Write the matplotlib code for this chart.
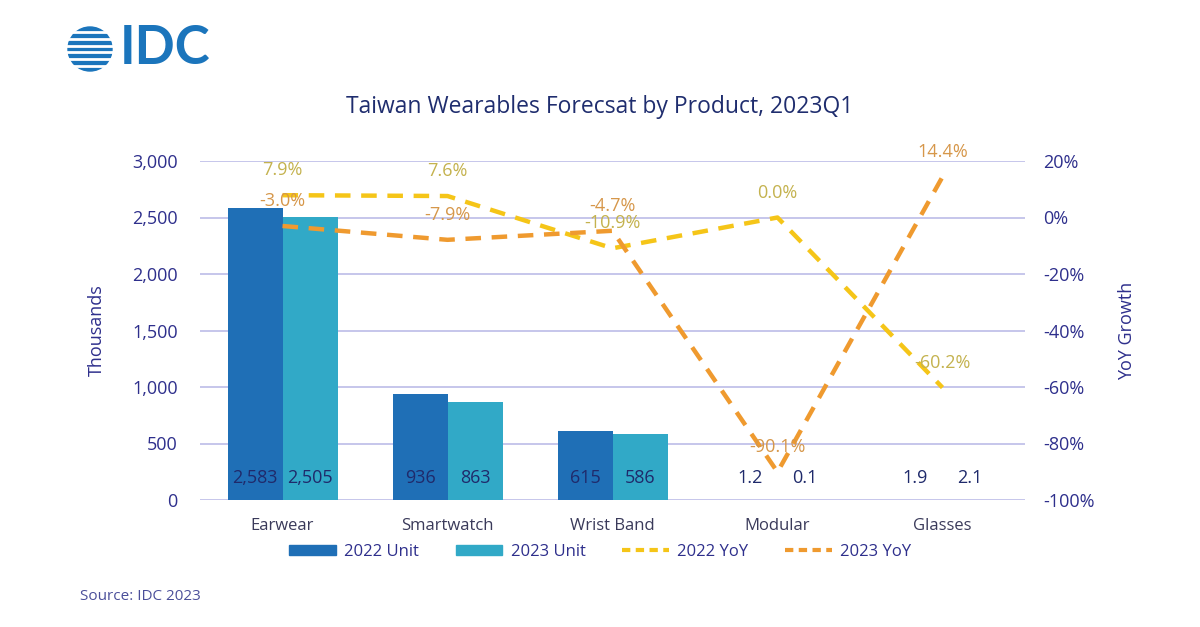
import numpy as np
import matplotlib.pyplot as plt
from matplotlib.patches import Patch, Circle
from matplotlib.lines import Line2D

plt.rcParams['font.family'] = ['Open Sans', 'DejaVu Sans']

# data
products = ['Earwear', 'Smartwatch', 'Wrist Band', 'Modular', 'Glasses']
unit_2022 = [2583, 936, 615, 1.2, 1.9]
unit_2023 = [2505, 863, 586, 0.1, 2.1]
yoy_2022 = [7.9, 7.6, -10.9, 0.0, -60.2]
yoy_2023 = [-3.0, -7.9, -4.7, -90.1, 14.4]

# colours
c22 = '#1f6fb6'
c23 = '#31a9c7'
cy22 = '#f5c518'
cy23 = '#ef9a2f'
lbl22 = '#c4b24e'
lbl23 = '#d6974a'
navy = '#2e2f8c'
grid_c = '#bcbce8'

fig = plt.figure(figsize=(12, 6.27), dpi=100)
ax = fig.add_axes([200 / 1200, 1 - 500 / 627, 825 / 1200, 339 / 627])
ax2 = ax.twinx()

x = np.arange(len(products))
w = 1 / 3
ax.bar(x - w / 2, unit_2022, width=w, color=c22, zorder=2)
ax.bar(x + w / 2, unit_2023, width=w, color=c23, zorder=2)

def fmt(v):
    return f'{v:,.0f}' if v >= 100 else f'{v:.1f}'

for i in range(len(products)):
    ax.text(x[i] - w / 2, 195, fmt(unit_2022[i]), ha='center', va='center',
            fontsize=13, color='#1f2a6b', zorder=3)
    ax.text(x[i] + w / 2, 195, fmt(unit_2023[i]), ha='center', va='center',
            fontsize=13, color='#1f2a6b', zorder=3)

ax.set_xlim(-0.5, len(products) - 0.5)
ax.set_ylim(0, 3000)
ax.set_yticks(np.arange(0, 3001, 500))
ax.set_yticklabels([f'{v:,}' for v in range(0, 3001, 500)])
ax.grid(axis='y', color=grid_c, linewidth=1.2, zorder=0)
ax.set_axisbelow(True)
ax.set_xticks(x)
ax.set_xticklabels(products)
ax.tick_params(axis='x', length=0, pad=13, labelsize=12, labelcolor='#3a3a5a')
ax.tick_params(axis='y', length=0, pad=16, labelsize=13, labelcolor=navy)
ax.set_ylabel('Thousands', fontsize=13, color=navy, labelpad=19)

ax2.plot(x, yoy_2022, color=cy22, lw=3.2, dashes=(3.5, 2.4))
ax2.plot(x, yoy_2023, color=cy23, lw=3.2, dashes=(3.5, 2.4))
for i in range(len(products)):
    ax2.annotate(f'{yoy_2022[i]:.1f}%', (x[i], yoy_2022[i]), xytext=(0, 18),
                 textcoords='offset points', ha='center', va='center',
                 fontsize=13, color=lbl22)
    ax2.annotate(f'{yoy_2023[i]:.1f}%', (x[i], yoy_2023[i]), xytext=(0, 18),
                 textcoords='offset points', ha='center', va='center',
                 fontsize=13, color=lbl23)
ax2.set_ylim(-100, 20)
ax2.set_yticks(np.arange(-100, 21, 20))
ax2.set_yticklabels([f'{v}%' for v in range(-100, 21, 20)])
ax2.tick_params(axis='y', length=0, pad=13, labelsize=13, labelcolor=navy)
ax2.set_ylabel('YoY Growth', fontsize=13, color=navy, labelpad=17)

for a in (ax, ax2):
    for s in a.spines.values():
        s.set_visible(False)

handles = [Patch(color=c22), Patch(color=c23),
           Line2D([], [], color=cy22, lw=3, dashes=(2, 1.3)),
           Line2D([], [], color=cy23, lw=3, dashes=(2, 1.3))]
fig.legend(handles, ['2022 Unit', '2023 Unit', '2022 YoY', '2023 YoY'],
           loc='center', bbox_to_anchor=(600 / 1200, 1 - 552 / 627), ncol=4,
           frameon=False, fontsize=12, labelcolor=navy, handlelength=2.8,
           handleheight=0.6, columnspacing=2.2, handletextpad=0.5)

fig.text(0.5, 1 - 107 / 627, 'Taiwan Wearables Forecsat by Product, 2023Q1',
         ha='center', va='center', fontsize=16.5, color='#1f2d6e')
fig.text(80 / 1200, 1 - 596 / 627, 'Source: IDC 2023', ha='left',
         va='center', fontsize=11, color='#4b4f9a')

# IDC logo
logo_blue = '#1b75bc'
lax = fig.add_axes([60 / 1200, 1 - 78 / 627, 160 / 1200, 58 / 627])
lax.set_xlim(0, 160)
lax.set_ylim(0, 58)
lax.set_aspect('equal')
lax.axis('off')
lax.add_patch(Circle((30, 29), 22, color=logo_blue))
for yy in np.linspace(12, 46, 6):
    lax.plot([5, 55], [yy, yy], color='white', lw=2)
lax.text(60, 29, 'IDC', fontsize=38, fontweight='bold', color=logo_blue,
         va='center', ha='left', family='Lato')

fig.savefig('out.png', dpi=100, facecolor='white')
